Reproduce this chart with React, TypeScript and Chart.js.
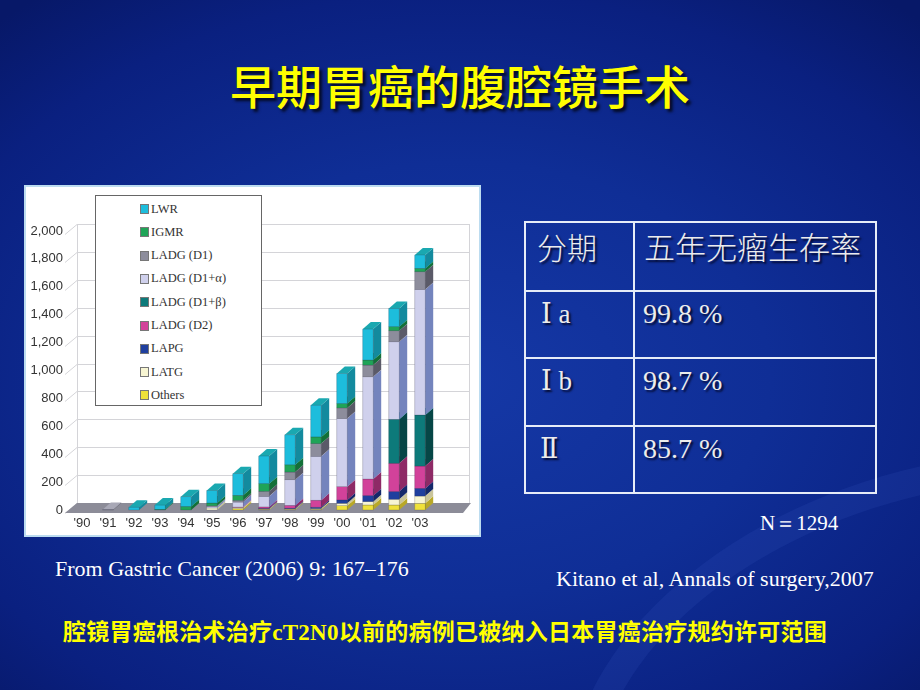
import React, { useEffect, useRef } from "react";
import { Chart, registerables } from "chart.js";

Chart.register(...registerables);

const years = ["'90", "'91", "'92", "'93", "'94", "'95", "'96", "'97", "'98", "'99", "'00", "'01", "'02", "'03"];
const yTicks = [0, 200, 400, 600, 800, 1000, 1200, 1400, 1600, 1800, 2000];

// stack order bottom -> top
const others = [0, 0, 0, 0, 0, 0, 10, 5, 5, 5, 31, 36, 36, 48];
const latg = [0, 0, 0, 0, 0, 15, 8, 2, 3, 5, 17, 24, 41, 52];
const lapg = [0, 0, 0, 0, 0, 0, 0, 5, 5, 10, 24, 43, 55, 55];
const ladgD2 = [0, 0, 0, 0, 0, 0, 3, 10, 20, 50, 95, 119, 203, 160];
const ladgD1b = [0, 0, 0, 0, 0, 0, 0, 0, 0, 0, 0, 0, 315, 366];
const ladgD1a = [0, 0, 0, 0, 0, 10, 36, 76, 184, 315, 489, 733, 556, 900];
const ladgD1 = [0, 3, 0, 0, 0, 5, 12, 36, 55, 91, 76, 84, 79, 127];
const igmr = [0, 0, 0, 5, 25, 20, 36, 55, 52, 48, 31, 36, 29, 24];
const lwr = [0, 0, 20, 30, 70, 90, 155, 198, 215, 227, 215, 222, 131, 96];

const seriesNames = ["Others", "LATG", "LAPG", "LADG (D2)", "LADG (D1+β)", "LADG (D1+α)", "LADG (D1)", "IGMR", "LWR"];
const seriesData = [others, latg, lapg, ladgD2, ladgD1b, ladgD1a, ladgD1, igmr, lwr];
const seriesColors = ["#efe13a", "#f7f5d2", "#1f3f9e", "#d2429a", "#0d7a7a", "#cfd0ec", "#8d8d9c", "#1fa457", "#1dbddc"];
const sideColors = ["#b8a828", "#c9c49a", "#14286a", "#8e2a66", "#064646", "#7484bd", "#5a5a68", "#137038", "#138a9e"];
const topColors = ["#f5ec80", "#fbfae6", "#3a5cc0", "#e070b4", "#13a0a0", "#e4e4f6", "#a8a8b6", "#3cc070", "#1aa8b0"];

const DX = 8;
const DY = 7;

const threeD = {
  id: "threeD",
  beforeDatasetsDraw(chart: any) {
    const { ctx, chartArea, scales } = chart;
    const y = scales.y;
    const x0 = chartArea.left;
    const x1 = chartArea.right + 36;
    ctx.save();
    ctx.strokeStyle = "#d4d4d8";
    ctx.lineWidth = 1;
    yTicks.forEach((v) => {
      const py = Math.round(y.getPixelForValue(v)) + 0.5;
      ctx.beginPath();
      ctx.moveTo(x0 - 4, py + 3);
      ctx.lineTo(x0 + DX, py - DY);
      ctx.lineTo(x1, py - DY);
      ctx.stroke();
    });
    ctx.beginPath();
    ctx.moveTo(x0 + DX + 0.5, y.getPixelForValue(2000) - DY);
    ctx.lineTo(x0 + DX + 0.5, y.getPixelForValue(0) - DY);
    ctx.stroke();
    ctx.beginPath();
    ctx.moveTo(x1 + 0.5, y.getPixelForValue(2000) - DY);
    ctx.lineTo(x1 + 0.5, y.getPixelForValue(0) - DY);
    ctx.stroke();
    const fy = y.getPixelForValue(0);
    ctx.fillStyle = "#8c8c98";
    ctx.beginPath();
    ctx.moveTo(x0 - 4, fy + 3);
    ctx.lineTo(x1 - 6, fy + 3);
    ctx.lineTo(x1 + 2, fy - DY);
    ctx.lineTo(x0 + DX, fy - DY);
    ctx.closePath();
    ctx.fill();
    ctx.restore();
  },
  afterDatasetsDraw(chart: any) {
    const { ctx } = chart;
    ctx.save();
    const n = chart.data.datasets.length;
    for (let d = 0; d < n; d++) {
      const meta = chart.getDatasetMeta(d);
      meta.data.forEach((el: any, i: number) => {
        const v = chart.data.datasets[d].data[i];
        if (!v) return;
        const { x, y, base, width } = el.getProps(["x", "y", "base", "width"], true);
        const l = x - width / 2;
        const r = x + width / 2;
        ctx.fillStyle = seriesColors[d];
        ctx.fillRect(l, y, width, base - y);
        ctx.fillStyle = sideColors[d];
        ctx.beginPath();
        ctx.moveTo(r, y);
        ctx.lineTo(r + DX, y - DY);
        ctx.lineTo(r + DX, base - DY);
        ctx.lineTo(r, base);
        ctx.closePath();
        ctx.fill();
        ctx.fillStyle = topColors[d];
        ctx.beginPath();
        ctx.moveTo(l, y);
        ctx.lineTo(r, y);
        ctx.lineTo(r + DX, y - DY);
        ctx.lineTo(l + DX, y - DY);
        ctx.closePath();
        ctx.fill();
        ctx.strokeStyle = "rgba(40,40,60,0.35)";
        ctx.lineWidth = 0.6;
        ctx.strokeRect(l, y, width, base - y);
      });
    }
    ctx.restore();
  },
};

function BarChart() {
  const ref = useRef<HTMLCanvasElement>(null);
  useEffect(() => {
    if (!ref.current) return;
    const chart = new Chart(ref.current, {
      type: "bar",
      data: {
        labels: years,
        datasets: seriesData.map((data, i) => ({
          label: seriesNames[i],
          data,
          backgroundColor: seriesColors[i],
          barPercentage: 0.4,
          categoryPercentage: 1,
        })),
      },
      options: {
        responsive: false,
        animation: false,
        layout: { padding: { left: 4, right: 48, top: 46, bottom: 0 } },
        plugins: { legend: { display: false }, tooltip: { enabled: false } },
        scales: {
          x: {
            stacked: true,
            grid: { display: false, drawTicks: false },
            border: { display: false },
            ticks: { color: "#333", font: { family: "Liberation Sans", size: 13 }, padding: 6, maxRotation: 0 },
            afterFit: (s: any) => { s.height = 27; },
          },
          y: {
            stacked: true,
            min: 0,
            max: 2000,
            grid: { display: false, drawTicks: false },
            border: { display: false },
            ticks: {
              stepSize: 200,
              color: "#333",
              padding: 6,
              font: { family: "Liberation Sans", size: 13 },
              callback: (v: any) => Number(v).toLocaleString("en-US"),
            },
            afterFit: (s: any) => { s.width = 41; },
          },
        },
      },
      plugins: [threeD],
    });
    return () => chart.destroy();
  }, []);
  return <canvas ref={ref} width={457} height={352} style={{ position: "absolute", left: 0, top: 0 }} />;
}

const legendOrder = [8, 7, 6, 5, 4, 3, 2, 1, 0];

export default function App() {
  const shadow = "2px 2px 2px rgba(0,0,20,0.8)";
  const cellStyle: React.CSSProperties = {
    border: "2px solid #e6ecf8",
    verticalAlign: "top",
    color: "#ececec",
    textShadow: shadow,
    padding: 0,
    whiteSpace: "nowrap",
  };
  const serif = "'Liberation Serif', 'DejaVu Serif', serif";
  const cjk = "'Noto Sans CJK SC', sans-serif";
  return (
    <div
      style={{
        position: "absolute",
        left: 0,
        top: 0,
        width: 920,
        height: 690,
        overflow: "hidden",
        background: "radial-gradient(ellipse 75% 70% at 50% 55%, #1538a6 0%, #0f2e96 45%, #0a2080 80%, #071868 100%)",
      }}
    >
      <div style={{ position: "absolute", left: 560, top: 470, width: 700, height: 420, borderRadius: "50%", border: "28px solid rgba(70,110,210,0.12)", transform: "rotate(-18deg)" }} />
      <div style={{ position: "absolute", left: 0, top: 56, width: 920, textAlign: "center", fontFamily: cjk, fontSize: 46, fontWeight: 500, color: "#ffff00", textShadow: "3px 3px 3px rgba(0,0,0,0.75)", lineHeight: "56px" }}>
        早期胃癌的腹腔镜手术
      </div>

      <div style={{ position: "absolute", left: 24, top: 185, width: 457, height: 352, background: "#ffffff", boxShadow: "inset 0 0 0 2px #bcdcf0" }}>
        <BarChart />
        <div style={{ position: "absolute", left: 71, top: 10, width: 167, height: 211, border: "1px solid #666", background: "#fff", boxSizing: "border-box" }}>
          {legendOrder.map((idx, k) => (
            <div key={idx} style={{ position: "absolute", left: 44, top: 5 + k * 23.3, height: 16, display: "flex", alignItems: "center", fontFamily: serif, fontSize: 12.5, color: "#333", whiteSpace: "nowrap" }}>
              <span style={{ display: "inline-block", width: 7, height: 8, background: seriesColors[idx], border: "1px solid #777", marginRight: 2 }} />
              {seriesNames[idx]}
            </div>
          ))}
        </div>
      </div>

      <table style={{ position: "absolute", left: 524, top: 221, width: 351, height: 271, borderCollapse: "collapse", tableLayout: "fixed" }}>
        <colgroup>
          <col style={{ width: 109 }} />
          <col style={{ width: 242 }} />
        </colgroup>
        <tbody>
          <tr style={{ height: 69 }}>
            <td style={{ ...cellStyle, fontFamily: cjk, fontSize: 30, paddingLeft: 11, paddingTop: 1, fontWeight: 300 }}>分期</td>
            <td style={{ ...cellStyle, fontFamily: cjk, fontSize: 31, paddingLeft: 9, paddingTop: 0, fontWeight: 300 }}>五年无瘤生存率</td>
          </tr>
          <tr style={{ height: 67 }}>
            <td style={{ ...cellStyle, fontFamily: serif, fontSize: 27, paddingLeft: 15, paddingTop: 6 }}>Ⅰ a</td>
            <td style={{ ...cellStyle, fontFamily: serif, fontSize: 28, paddingLeft: 8, paddingTop: 6 }}>99.8 %</td>
          </tr>
          <tr style={{ height: 68 }}>
            <td style={{ ...cellStyle, fontFamily: serif, fontSize: 27, paddingLeft: 15, paddingTop: 6 }}>Ⅰ b</td>
            <td style={{ ...cellStyle, fontFamily: serif, fontSize: 28, paddingLeft: 8, paddingTop: 6 }}>98.7 %</td>
          </tr>
          <tr style={{ height: 67 }}>
            <td style={{ ...cellStyle, fontFamily: serif, fontSize: 27, paddingLeft: 14, paddingTop: 6 }}>Ⅱ</td>
            <td style={{ ...cellStyle, fontFamily: serif, fontSize: 28, paddingLeft: 8, paddingTop: 6 }}>85.7 %</td>
          </tr>
        </tbody>
      </table>

      <div style={{ position: "absolute", left: 760, top: 509, fontFamily: serif, fontSize: 21, color: "#fff", whiteSpace: "nowrap" }}>N＝1294</div>
      <div style={{ position: "absolute", left: 55, top: 556, fontFamily: serif, fontSize: 22, color: "#fff", whiteSpace: "nowrap" }}>From Gastric Cancer (2006) 9: 167–176</div>
      <div style={{ position: "absolute", left: 556, top: 566, fontFamily: serif, fontSize: 22, color: "#fff", whiteSpace: "nowrap" }}>Kitano et al, Annals of surgery,2007</div>
      <div style={{ position: "absolute", left: 63, top: 613, fontFamily: cjk, fontSize: 23, fontWeight: 700, color: "#ffff00", whiteSpace: "nowrap", letterSpacing: 0.25 }}>
        腔镜胃癌根治术治疗<span style={{ fontFamily: serif }}>cT2N0</span>以前的病例已被纳入日本胃癌治疗规约许可范围
      </div>
    </div>
  );
}
